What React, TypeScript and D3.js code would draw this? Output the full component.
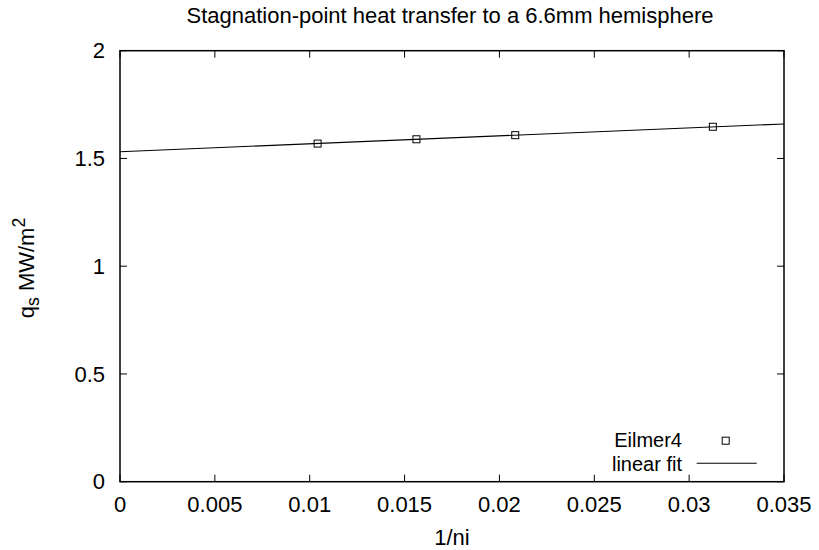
import React from "react";
import * as d3 from "d3";

const title = "Stagnation-point heat transfer to a 6.6mm hemisphere";
const xTicks = [0, 0.005, 0.01, 0.015, 0.02, 0.025, 0.03, 0.035];
const xTickLabels = ["0", "0.005", "0.01", "0.015", "0.02", "0.025", "0.03", "0.035"];
const yTicks = [0, 0.5, 1, 1.5, 2];
const yTickLabels = ["0", "0.5", "1", "1.5", "2"];
const invNi = [1 / 96, 1 / 64, 1 / 48, 1 / 32];
const qs = [1.569, 1.589, 1.608, 1.647];
const fitIntercept = 1.531;
const fitSlope = 3.69;
const seriesNames = ["Eilmer4", "linear fit"];

const W = 819;
const H = 550;
const L = 120, R = 784, T = 50.7, B = 481.7;
const FONT = "'Liberation Sans', Arial, sans-serif";
const FS = 22;
const LFS = 20;

export default function App() {
  const x = d3.scaleLinear().domain([0, 0.035]).range([L, R]);
  const y = d3.scaleLinear().domain([0, 2]).range([B, T]);
  const fitLine = d3
    .line<number>()
    .x((d) => x(d))
    .y((d) => y(fitIntercept + fitSlope * d));
  const tl = 7;
  return (
    <svg
      width={W}
      height={H}
      style={{ position: "absolute", left: 0, top: 0, background: "#fff" }}
      fontFamily={FONT}
    >
      <rect x={0} y={0} width={W} height={H} fill="#fff" />
      <text x={450} y={22.5} fontSize={FS} textAnchor="middle" fill="#000">
        {title}
      </text>
      {xTicks.map((t, i) => (
        <g key={"x" + i}>
          <line x1={x(t)} x2={x(t)} y1={B} y2={B - tl} stroke="#000" strokeWidth={1} />
          <line x1={x(t)} x2={x(t)} y1={T} y2={T + tl} stroke="#000" strokeWidth={1} />
          <text x={x(t)} y={512} fontSize={FS} textAnchor="middle" fill="#000">
            {xTickLabels[i]}
          </text>
        </g>
      ))}
      {yTicks.map((t, i) => (
        <g key={"y" + i}>
          <line x1={L} x2={L + tl} y1={y(t)} y2={y(t)} stroke="#000" strokeWidth={1} />
          <line x1={R} x2={R - tl} y1={y(t)} y2={y(t)} stroke="#000" strokeWidth={1} />
          <text x={105} y={y(t) + 7.7} fontSize={FS} textAnchor="end" fill="#000">
            {yTickLabels[i]}
          </text>
        </g>
      ))}
      <path d={fitLine([0, 0.035]) || ""} stroke="#000" strokeWidth={1.1} fill="none" />
      {invNi.map((v, i) => (
        <rect
          key={"p" + i}
          x={x(v) - 3.5}
          y={y(qs[i]) - 3.5}
          width={7}
          height={7}
          fill="none"
          stroke="#000"
          strokeWidth={1}
        />
      ))}
      <rect x={L} y={T} width={R - L} height={B - T} fill="none" stroke="#000" strokeWidth={1.5} />
      <text x={682} y={447} fontSize={LFS} textAnchor="end" fill="#000">
        {seriesNames[0]}
      </text>
      <text x={682} y={470.5} fontSize={LFS} textAnchor="end" fill="#000">
        {seriesNames[1]}
      </text>
      <rect x={722.2} y={437.2} width={7} height={7} fill="none" stroke="#000" strokeWidth={1} />
      <line x1={696.7} x2={756.7} y1={463.3} y2={463.3} stroke="#000" strokeWidth={1.1} />
      <text x={452} y={545} fontSize={FS} textAnchor="middle" fill="#000">
        1/ni
      </text>
      <text
        transform={`translate(34,268) rotate(-90)`}
        fontSize={FS}
        textAnchor="middle"
        fill="#000"
      >
        <tspan>q</tspan>
        <tspan fontSize={FS * 0.8} dy={5}>s</tspan>
        <tspan dy={-5}> MW/m</tspan>
        <tspan fontSize={FS * 0.8} dy={-9}>2</tspan>
      </text>
    </svg>
  );
}
